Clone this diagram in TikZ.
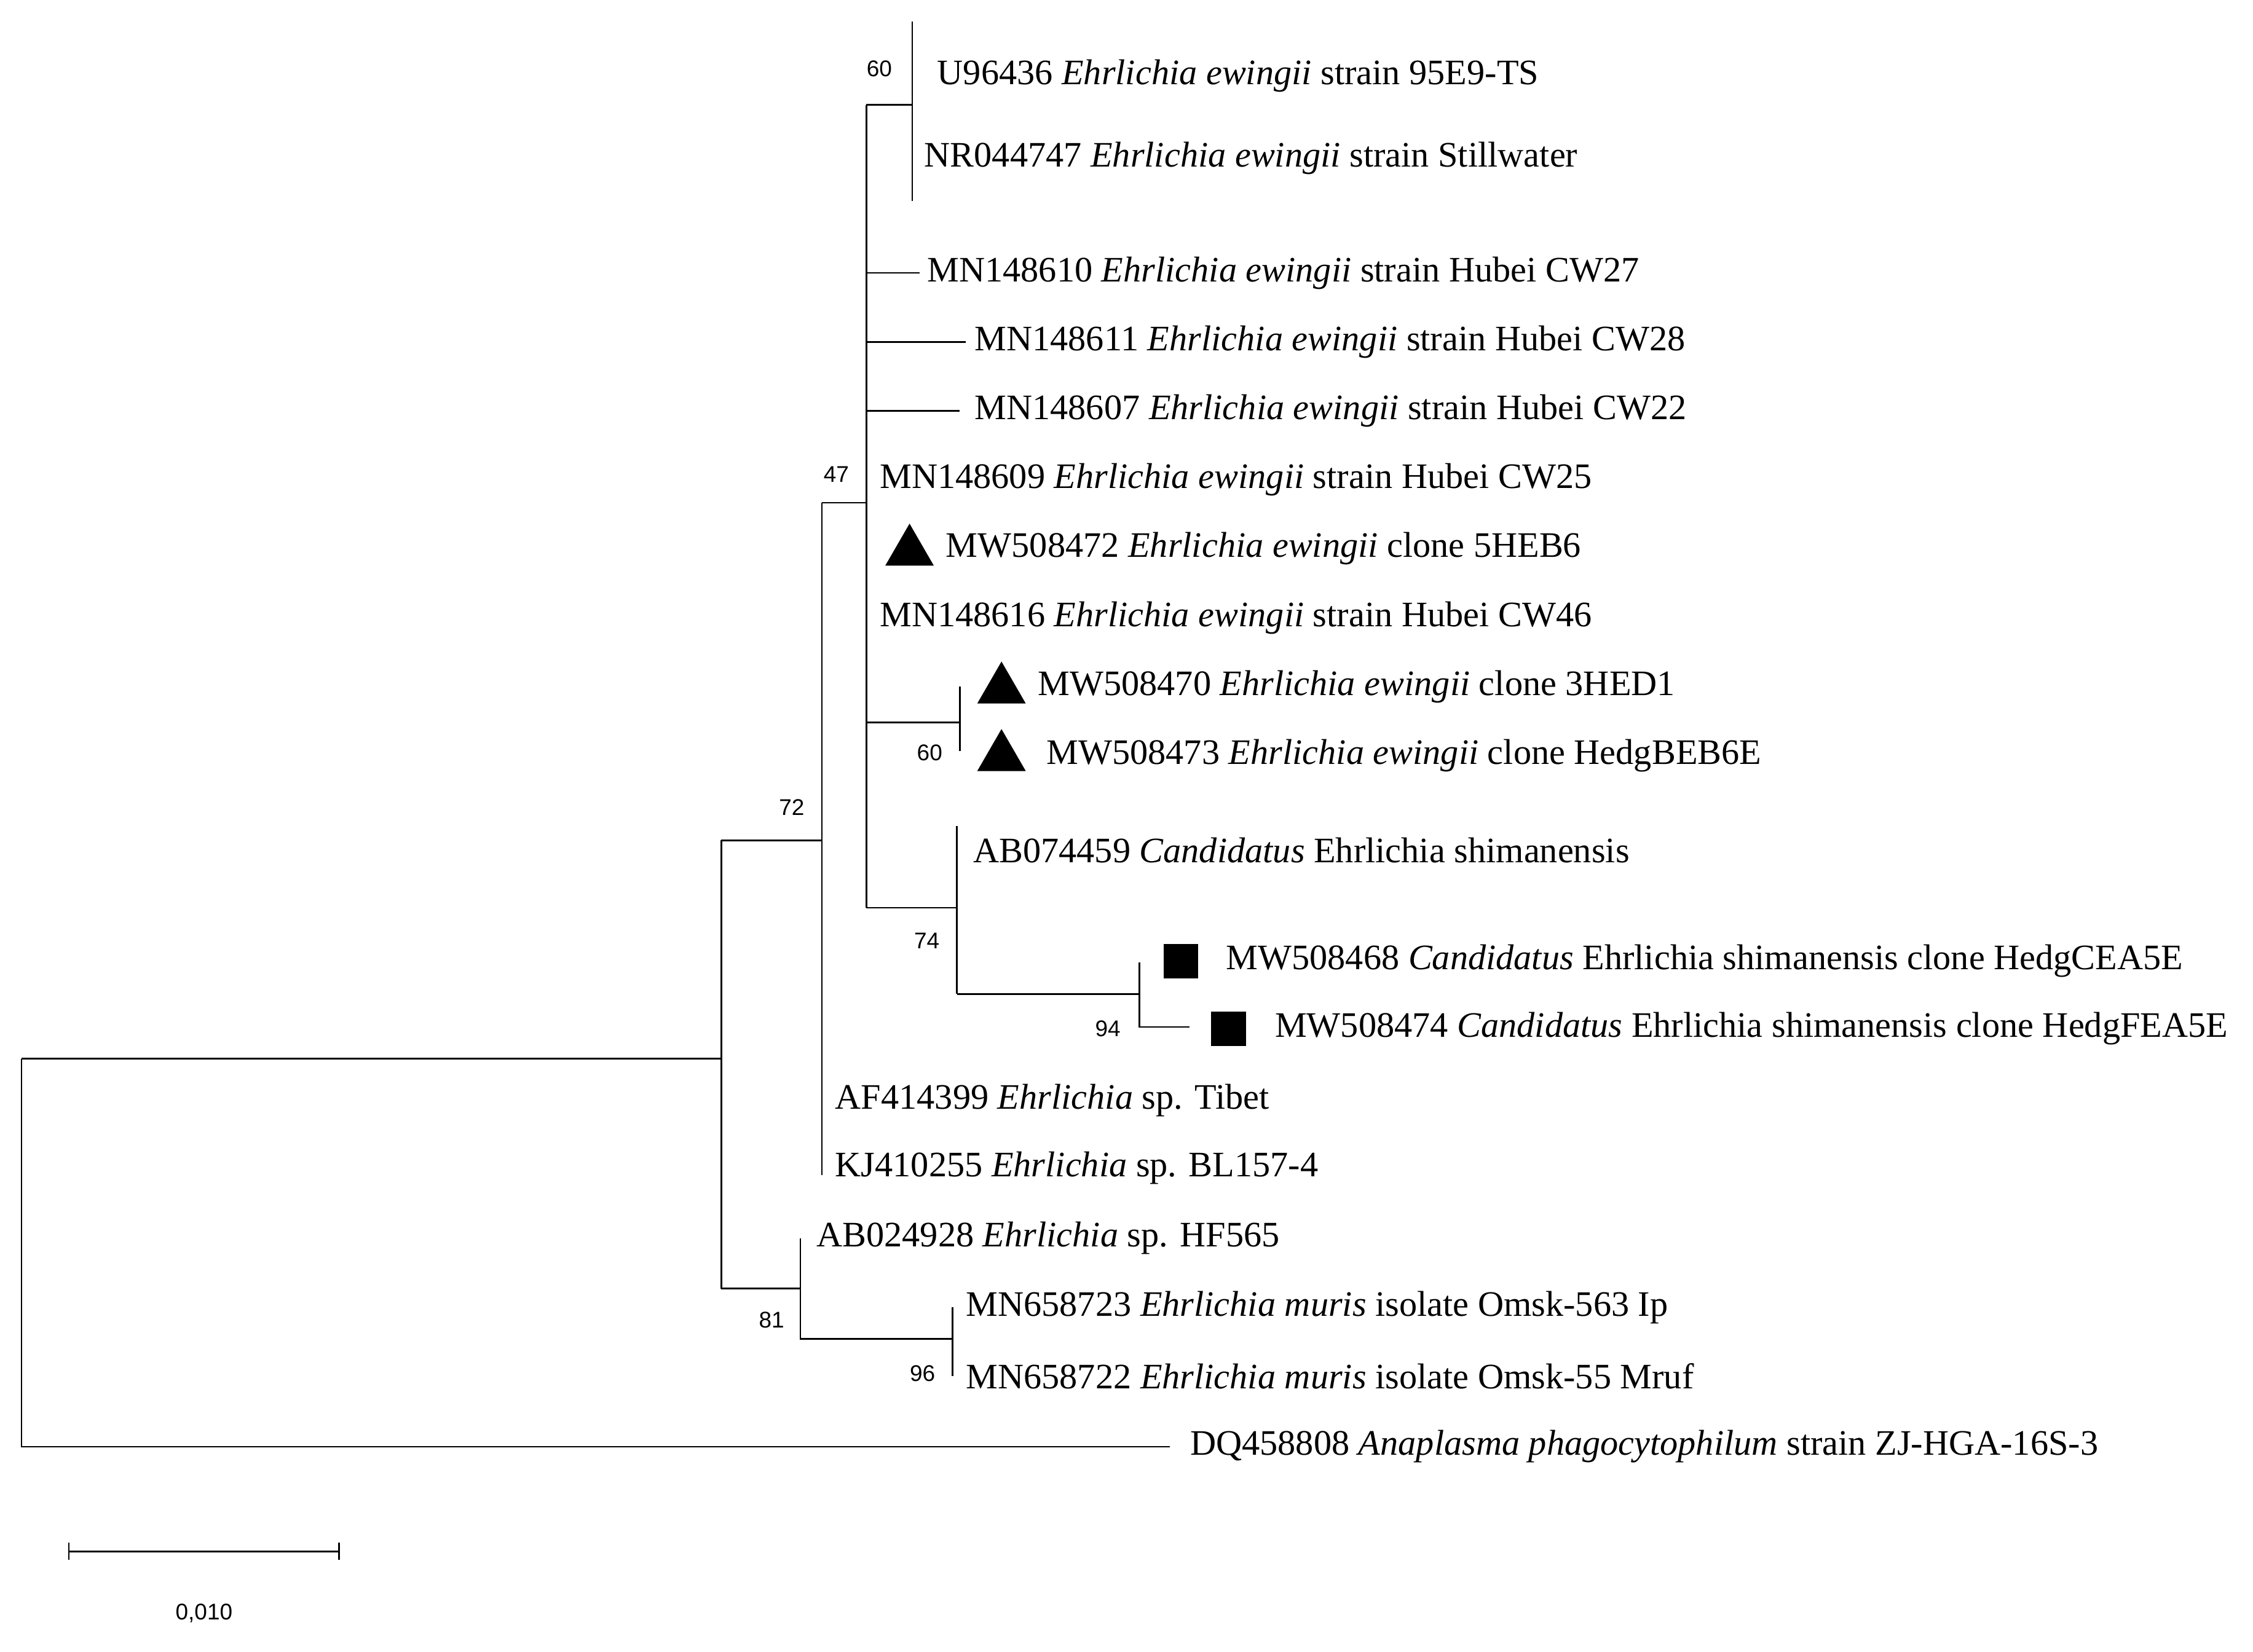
\documentclass[tikz,border=0pt]{standalone}
\usepackage{fontspec}
\setmainfont{Liberation Serif}
\newfontfamily\bsfont{Liberation Sans}
\begin{document}
\begin{tikzpicture}[x=0.02cm,y=-0.02cm,
  leaf/.style={anchor=west,inner sep=0pt,font=\fontsize{14.2}{16}\selectfont},
  bs/.style={inner sep=0pt,font=\bsfont\fontsize{9}{10}\selectfont},
  br/.style={line width=0.6pt},
  tri/.style={regular polygon,regular polygon sides=3,fill=black,inner sep=0pt,minimum size=0.78cm},
  sq/.style={rectangle,fill=black,inner sep=0pt,minimum size=0.48cm}]
\usetikzlibrary{shapes.geometric}
\useasboundingbox (0,0) rectangle (1568,1150);
% internal nodes
\coordinate (r) at (15,737); \coordinate (rb) at (15,1007);
\coordinate (a) at (502,737);
\coordinate (b) at (572,585);
\coordinate (c) at (603,350);
\coordinate (d) at (635,73);
\coordinate (e) at (668,503);
\coordinate (f) at (666,632);
\coordinate (g) at (793,692);
\coordinate (h) at (557,897);
\coordinate (k) at (663,932);
% leaves
\node[leaf] (l1) at (652,53) {U96436 \textit{Ehrlichia ewingii} strain 95E9-TS};
\node[leaf] (l2) at (643,110) {NR044747 \textit{Ehrlichia ewingii} strain Stillwater};
\node[leaf] (l3) at (645,190) {MN148610 \textit{Ehrlichia ewingii} strain Hubei CW27};
\node[leaf] (l4) at (678,238) {MN148611 \textit{Ehrlichia ewingii} strain Hubei CW28};
\node[leaf] (l5) at (678,286) {MN148607 \textit{Ehrlichia ewingii} strain Hubei CW22};
\node[leaf] (l6) at (612,334) {MN148609 \textit{Ehrlichia ewingii} strain Hubei CW25};
\node[tri] (t1) at (633,384) {};
\node[leaf] (l7) at (658,382) {MW508472 \textit{Ehrlichia ewingii} clone 5HEB6};
\node[leaf] (l8) at (612,430) {MN148616 \textit{Ehrlichia ewingii} strain Hubei CW46};
\node[tri] (t2) at (697,480) {};
\node[leaf] (l9) at (722,478) {MW508470 \textit{Ehrlichia ewingii} clone 3HED1};
\node[tri] (t3) at (697,527) {};
\node[leaf] (l10) at (728,526) {MW508473 \textit{Ehrlichia ewingii} clone HedgBEB6E};
\node[leaf] (l11) at (677,592) {AB074459 \textit{Candidatus} Ehrlichia shimanensis};
\node[sq] (s1) at (822,669) {};
\node[leaf] (l12) at (853,669) {MW508468 \textit{Candidatus} Ehrlichia shimanensis clone HedgCEA5E};
\node[sq] (s2) at (855,716) {};
\node[leaf] (l13) at (887,716) {MW508474 \textit{Candidatus} Ehrlichia shimanensis clone HedgFEA5E};
\node[leaf] (l14) at (581,766) {AF414399 \textit{Ehrlichia} sp. Tibet};
\node[leaf] (l15) at (581,813) {KJ410255 \textit{Ehrlichia} sp. BL157-4};
\node[leaf] (l16) at (568,862) {AB024928 \textit{Ehrlichia} sp. HF565};
\node[leaf] (l17) at (672,910) {MN658723 \textit{Ehrlichia muris} isolate Omsk-563 Ip};
\node[leaf] (l18) at (672,958) {MN658722 \textit{Ehrlichia muris} isolate Omsk-55 Mruf};
\node[leaf] (l19) at (828,1007) {DQ458808 \textit{Anaplasma phagocytophilum} strain ZJ-HGA-16S-3};
% branches
\draw[br] (r) -- (rb) -- ([xshift=-8]l19.west);
\draw[br] (r) -- (a);
\draw[br] (502,585) -- (502,897);
\draw[br] (502,585) -- (b); \draw[br] (502,897) -- (h);
\draw[br] (572,350) -- (572,818);
\draw[br] (572,350) -- (c);
\draw[br] (603,73) -- (603,632);
\draw[br] (603,73) -- (d);
\draw[br] (635,15) -- (635,140);
\draw[br] (603,190) -- (640,190);
\draw[br] (603,238) -- (672,238);
\draw[br] (603,286) -- (668,286);
\draw[br] (603,503) -- (e); \draw[br] (668,478) -- (668,523);
\draw[br] (603,632) -- (f); \draw[br] (666,575) -- (666,692);
\draw[br] (666,692) -- (g); \draw[br] (793,670) -- (793,715) -- (828,715);
\draw[br] (557,862) -- (557,932) -- (k);
\draw[br] (663,910) -- (663,958);
% bootstrap
\node[bs] at (612,48) {60};
\node[bs] at (582,330) {47};
\node[bs] at (551,562) {72};
\node[bs] at (647,524) {60};
\node[bs] at (645,655) {74};
\node[bs] at (771,716) {94};
\node[bs] at (537,919) {81};
\node[bs] at (642,956) {96};
% scale bar
\coordinate (sa) at (48,1080); \coordinate (sb) at (236,1080);
\draw[br] (sa) -- (sb); \draw[br] (48,1074) -- (48,1086); \draw[br] (236,1074) -- (236,1086);
\node[bs] (sc) at (142,1123) {0,010};
\end{tikzpicture}
\end{document}
